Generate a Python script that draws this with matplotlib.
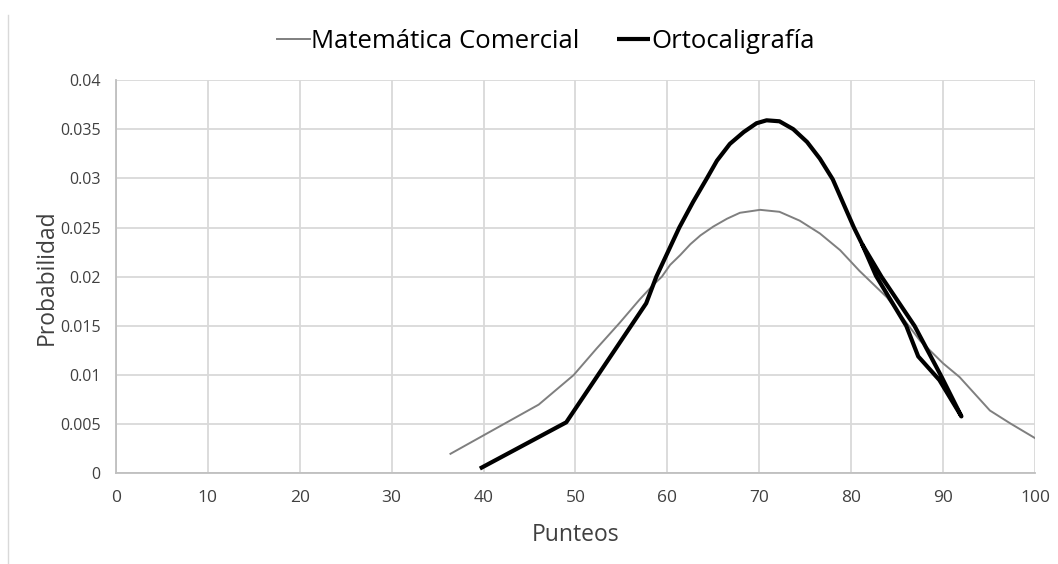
import matplotlib
matplotlib.use("Agg")
import matplotlib.pyplot as plt
from matplotlib.lines import Line2D

plt.rcParams["font.family"] = ["Open Sans", "DejaVu Sans"]

# normal-curve samples for each subject (points listed in the order plotted)
mate_x = [36.4, 46.0, 49.8, 52.3, 54.8, 57.0, 58.5, 59.4, 60.3, 61.4, 62.5,
          63.6, 65.0, 66.5, 67.9, 70.1, 72.2, 74.4, 76.6, 78.8, 80.9, 83.9,
          87.5, 90.0, 91.8, 95.1, 97.3, 100.0]
mate_y = [0.0020, 0.0070, 0.0100, 0.0127, 0.0153, 0.0177, 0.0192, 0.0200,
          0.0212, 0.0222, 0.0233, 0.0242, 0.0251, 0.0259, 0.0265, 0.0268,
          0.0266, 0.0257, 0.0244, 0.0227, 0.0206, 0.0179, 0.0135, 0.0112,
          0.0098, 0.0064, 0.0051, 0.0036]

orto_x = [39.6, 49.0, 57.7, 58.8, 61.3, 62.8, 64.3, 65.4, 66.8, 68.3, 69.7,
          70.8, 72.2, 73.7, 75.2, 76.6, 78.0, 79.5, 80.3, 81.2, 82.7, 86.0,
          87.3, 89.6, 92.0, 89.8, 86.9, 83.3, 81.2]
orto_y = [0.0005, 0.0052, 0.0173, 0.0200, 0.0250, 0.0276, 0.0300, 0.0318,
          0.0335, 0.0347, 0.0356, 0.0359, 0.0358, 0.0350, 0.0337, 0.0320,
          0.0299, 0.0267, 0.0250, 0.0233, 0.0201, 0.0150, 0.0119, 0.0095,
          0.0058, 0.0099, 0.0150, 0.0200, 0.0233]

x_ticks = list(range(0, 101, 10))
y_ticks = [0, 0.005, 0.01, 0.015, 0.02, 0.025, 0.03, 0.035, 0.04]
y_labels = ["0", "0.005", "0.01", "0.015", "0.02", "0.025", "0.03", "0.035", "0.04"]

TXT = "#404040"
GRID = "#d9d9d9"

fig = plt.figure(figsize=(10.58, 5.64), dpi=100)
ax = fig.add_axes([0.1096, 0.1605, 0.8686, 0.6977])

ax.plot(mate_x, mate_y, color="#7f7f7f", lw=1.4, solid_joinstyle="round",
        label="Matemática Comercial", zorder=3)
ax.plot(orto_x, orto_y, color="black", lw=3.0, solid_joinstyle="round",
        solid_capstyle="butt", label="Ortocaligrafía", zorder=4)

ax.set_xlim(0, 100)
ax.set_ylim(0, 0.04)
ax.set_xticks(x_ticks)
ax.set_yticks(y_ticks)
ax.set_yticklabels(y_labels)
ax.grid(True, color=GRID, lw=1.3)
ax.set_axisbelow(True)
ax.tick_params(axis="y", length=0, labelsize=11.5, labelcolor=TXT, pad=11)
ax.tick_params(axis="x", length=0, labelsize=12.5, labelcolor=TXT, pad=12)

for side in ("top", "right"):
    ax.spines[side].set_visible(False)
ax.spines["left"].set_color("#bfbfbf")
ax.spines["bottom"].set_color("#bfbfbf")
ax.spines["left"].set_linewidth(1.3)
ax.spines["bottom"].set_linewidth(1.3)

ax.set_xlabel("Punteos", fontsize=16.5, color=TXT, labelpad=12)
ax.set_ylabel("Probabilidad", fontsize=16.5, color=TXT, labelpad=1)

fig.legend(loc="upper center", bbox_to_anchor=(0.516, 0.99), ncol=2,
           frameon=False, fontsize=18.5, handlelength=1.3, handletextpad=0.05,
           columnspacing=1.45, labelcolor="black")

# thin frame edge on the left of the chart area
fig.add_artist(Line2D([8 / 1058, 8 / 1058], [0, 1 - 15 / 564],
                      transform=fig.transFigure, color=GRID, lw=1.0))

fig.savefig("out.png", dpi=100)
